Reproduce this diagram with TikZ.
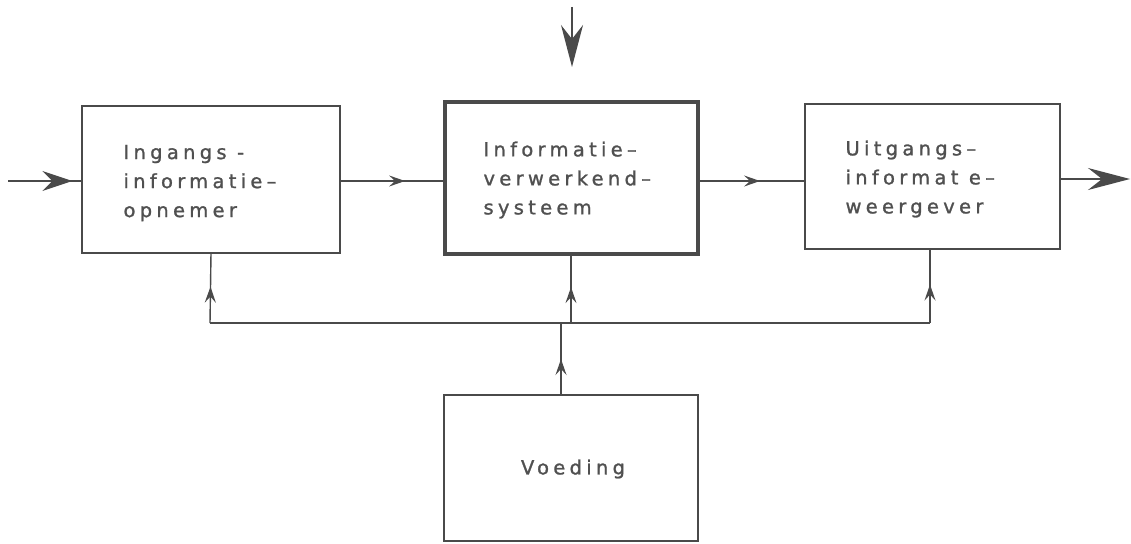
\documentclass[tikz,border=0pt]{standalone}
\usepackage{fontspec}
\setmainfont{DejaVu Sans}
\newfontfamily\spacedfont[LetterSpace=22,FakeBold=1.2]{DejaVu Sans}
\usetikzlibrary{arrows.meta,decorations.markings}
\definecolor{inkline}{HTML}{4A4A4A}
\definecolor{inktext}{HTML}{505050}
\tikzset{
  blocktext/.style={font={\spacedfont\fontsize{19.5}{29}\selectfont}, text=inktext, align=left},
  wire/.style={draw=inkline, line width=1.4pt},
  midarrow/.style={postaction={decorate}, decoration={markings,
    mark=at position #1 with {\arrow{Stealth[length=16pt,width=11pt,inset=6pt,color=inkline]}}}},
  bigmidarrow/.style={postaction={decorate}, decoration={markings,
    mark=at position #1 with {\arrow{Stealth[length=30pt,width=20pt,inset=10pt,color=inkline]}}}},
  bigtip/.style={-{Stealth[length=42pt,width=22pt,inset=14pt,color=inkline]}},
}
\begin{document}
\begin{tikzpicture}[x=1pt,y=-1pt]
\useasboundingbox (0,0) rectangle (1131,543);
% boxes
\draw[inkline, line width=2.2pt] (82,106) rectangle (340,253);
\node[coordinate] (b1s) at (211,253) {};
\node[coordinate] (b1w) at (82,181) {};
\node[coordinate] (b1e) at (340,181) {};
\node[blocktext, anchor=west] (t1) at (120,183) {Ingangs\ -\\informatie–\\opnemer};

\draw[inkline, line width=4.2pt] (445,102) rectangle (698,254);
\node[coordinate] (b2s) at (571,254) {};
\node[coordinate] (b2w) at (445,181) {};
\node[coordinate] (b2e) at (698,181) {};
\node[blocktext, anchor=west] (t2) at (480,180) {Informatie–\\verwerkend–\\systeem};

\draw[inkline, line width=2.2pt] (805,104) rectangle (1060,249);
\node[coordinate] (b3s) at (930,249) {};
\node[coordinate] (b3w) at (805,181) {};
\node[coordinate] (b3e) at (1060,179) {};
\node[blocktext, anchor=west] (t3) at (842,179) {Uitgangs–\\informat e–\\weergever};

\draw[inkline, line width=2.2pt] (444,395) rectangle (698,541);
\node[coordinate] (v4n) at (561,395) {};
\node[blocktext] (t4) at (573,469) {Voeding};

% connectors
\coordinate (inp) at (8,181);
\coordinate (outp) at (1130,179);
\coordinate (topa) at (572,7);
\coordinate (topb) at (572,67);
\coordinate (J) at (561,323);
\coordinate (J1) at (210,323);
\coordinate (J2) at (571,323);
\coordinate (J3) at (930,323);

\draw[wire, bigmidarrow=0.87] (inp) -- (b1w);
\draw[wire, midarrow=0.62] (b1e) -- (b2w);
\draw[wire, midarrow=0.58] (b2e) -- (b3w);
\draw[wire, bigtip] (b3e) -- (outp);
\draw[wire, bigtip] (topa) -- (topb);

\draw[wire] (J1) -- (J3);
\draw[wire, midarrow=0.52] (J1) -- (b1s);
\draw[wire, midarrow=0.52] (J2) -- (b2s);
\draw[wire, midarrow=0.52] (J3) -- (b3s);
\draw[wire, midarrow=0.5] (v4n) -- (J);
\end{tikzpicture}
\end{document}
